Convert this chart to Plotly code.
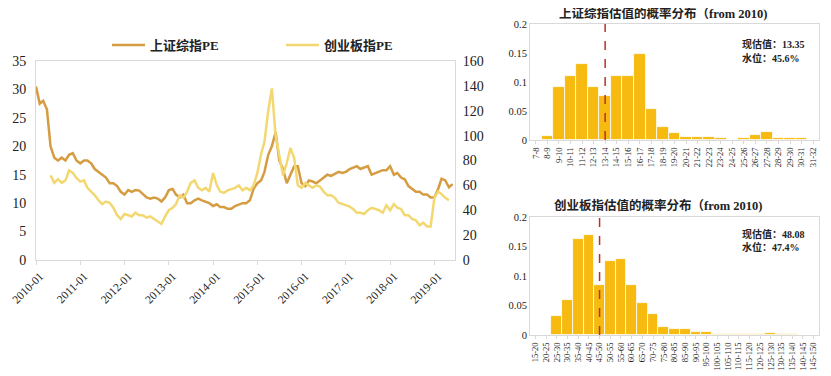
import plotly.graph_objects as go

# ---------------- data ----------------
sh_dates = [f"{y}-{m:02d}-01" for y in range(2010, 2020) for m in range(1, 13)][:114]
sh_pe = [30.5, 27.5, 28, 26.5, 20, 18, 17.5, 18, 17.5, 18.5, 18.8, 17.5,
         17, 17.5, 17.5, 17, 16, 15.5, 15, 14.5, 13.5, 13.5, 13, 12,
         11.5, 12.3, 12, 12.3, 12.2, 11.5, 11, 10.8, 11, 10.8, 10.3, 11,
         12.3, 12.5, 11.5, 11, 11.5, 10, 10, 10.5, 10.8, 10.5, 10.3, 10,
         9.5, 9.8, 9.3, 9.3, 9, 9, 9.5, 9.8, 10, 10, 10.5, 12.5,
         13.5, 14, 15.5, 18.5, 20, 22.5, 17.5, 16, 13.5, 15, 16.5, 16.5,
         13.5, 13, 14, 13.8, 13.5, 14, 14.5, 15, 14.8, 15.2, 15.5, 15.3,
         15.5, 16, 16.3, 16.5, 16, 16.3, 16.5, 15, 15.3, 15.5, 15.8, 15.8,
         16.5, 15, 15.3, 14.5, 14.2, 13, 12.5, 12, 12, 11.5, 11.5, 11,
         11, 12.5, 14.3, 14, 12.8, 13.35]

cyb_dates = sh_dates[4:]
cyb_pe = [68, 62, 65, 62, 64, 72, 70,
          66, 63, 64, 58, 55, 52, 48, 45, 47, 46, 42, 36,
          33, 37, 36, 35, 38, 36, 36, 34, 35, 33, 31, 29,
          35, 40, 42, 45, 52, 50, 55, 62, 64, 58, 56, 58,
          55, 70, 60, 55, 54, 56, 57, 58, 60, 56, 58, 56,
          60, 70, 85, 95, 120, 138, 100, 85, 68, 78, 90, 82,
          60, 58, 62, 60, 58, 60, 59, 55, 52, 52, 50, 46,
          45, 44, 43, 41, 38, 38, 37, 40, 42, 41, 40, 38,
          44, 40, 45, 42, 41, 36, 36, 33, 32, 28, 30, 27,
          27, 50, 55, 53, 50, 48.08]

sh_bins = ["7-8", "8-9", "9-10", "10-11", "11-12", "12-13", "13-14", "14-15", "15-16",
           "16-17", "17-18", "18-19", "19-20", "20-21", "21-22", "22-23", "23-24", "24-25",
           "25-26", "26-27", "27-28", "28-29", "29-30", "30-31", "31-32"]
sh_prob = [0, 0.0075, 0.092, 0.111, 0.131, 0.092, 0.076, 0.11, 0.11, 0.148, 0.053, 0.022,
           0.0115, 0.006, 0.006, 0.005, 0.003, 0, 0.003, 0.008, 0.014, 0.003, 0.004, 0.003, 0]
sh_now = 13.35
sh_level = "45.6%"

cyb_bins = ["15-20", "20-25", "25-30", "30-35", "35-40", "40-45", "45-50", "50-55", "55-60",
            "60-65", "65-70", "70-75", "75-80", "80-85", "85-90", "90-95", "95-100", "100-105",
            "105-110", "110-115", "115-120", "120-125", "125-130", "130-135", "135-140",
            "140-145", "145-150"]
cyb_prob = [0, 0, 0.032, 0.060, 0.162, 0.170, 0.085, 0.126, 0.129, 0.085, 0.054, 0.036,
            0.014, 0.011, 0.011, 0.005, 0.005, 0.001, 0.001, 0.002, 0.002, 0.002, 0.003,
            0.001, 0.001, 0, 0]
cyb_now = 48.08
cyb_level = "47.4%"

# ---------------- style ----------------
FONT = "Liberation Serif, Noto Sans CJK SC, serif"
C_SH = "#D59C42"
C_CYB = "#F3D872"
C_BAR = "#F6BA10"
C_DASH = "#B8322A"
GRID = "#D9D9D9"

W, H, OFF = 823, 368, 8   # page body margin offsets the figure by 8px


def px(x):
    return (x - OFF) / W


def py(y):
    return 1 - (y - OFF) / H


def bin_index(bins, v):
    for i, b in enumerate(bins):
        lo, hi = [float(t) for t in b.split("-")]
        if lo <= v < hi:
            return i
    return 0


fig = go.Figure()

fig.add_trace(go.Scatter(x=sh_dates, y=sh_pe, name="<b>上证综指PE</b>", mode="lines",
                         line=dict(color=C_SH, width=2.5), xaxis="x", yaxis="y"))
fig.add_trace(go.Scatter(x=cyb_dates, y=cyb_pe, name="<b>创业板指PE</b>", mode="lines",
                         line=dict(color=C_CYB, width=2.5), xaxis="x", yaxis="y2"))

fig.add_trace(go.Bar(x=sh_bins, y=sh_prob, marker=dict(color=C_BAR, line=dict(color="white", width=0.8)),
                     showlegend=False, xaxis="x3", yaxis="y3"))
fig.add_trace(go.Bar(x=cyb_bins, y=cyb_prob, marker=dict(color=C_BAR, line=dict(color="white", width=0.8)),
                     showlegend=False, xaxis="x4", yaxis="y4"))

tickf = dict(family=FONT, size=14, color="#222")
hist_x = dict(type="category", tickangle=-90, automargin=False,
              tickfont=dict(family=FONT, size=8.5, color="#222"), showline=True,
              linecolor=GRID, mirror=True, showgrid=False, ticks="outside", ticklen=3, tickcolor=GRID)
hist_y = dict(range=[0, 0.2], dtick=0.05, automargin=False, showgrid=False, showline=True,
              linecolor=GRID, mirror=True, tickfont=dict(family=FONT, size=10.5, color="#222"))

fig.update_layout(
    width=W, height=H,
    margin=dict(l=0, r=0, t=0, b=0),
    paper_bgcolor="white", plot_bgcolor="white",
    font=dict(family=FONT, color="#222"),
    bargap=0,
    legend=dict(orientation="h", x=px(107), y=py(45), xanchor="left", yanchor="middle",
                font=dict(family=FONT, size=13, color="#222"),
                entrywidthmode="pixels", entrywidth=126, itemwidth=33),
    xaxis=dict(domain=[px(36), px(455)], type="date", range=["2010-01-01", "2019-06-20"],
               tick0="2010-01-01", dtick="M12", tickformat="%Y-%m", tickangle=-45,
               tickfont=dict(family=FONT, size=11.5, color="#222"), automargin=False,
               ticklabeloverflow="allow", ticklabelshift=4,
               showgrid=False, showline=True, linecolor=GRID, mirror=True,
               ticks="outside", ticklen=4, tickcolor=GRID, anchor="y"),
    yaxis=dict(domain=[py(260), py(61)], range=[0, 35], dtick=5, showgrid=False, automargin=False,
               showline=True, linecolor=GRID, tickfont=tickf, anchor="x", ticklabelstandoff=6),
    yaxis2=dict(overlaying="y", side="right", range=[0, 160], dtick=20, showgrid=False,
                automargin=False, showline=True, linecolor=GRID, tickfont=tickf, anchor="x",
                ticklabelstandoff=4),
    xaxis3=dict(domain=[px(530), px(819)], anchor="y3", **hist_x),
    yaxis3=dict(domain=[py(140), py(24)], anchor="x3", **hist_y),
    xaxis4=dict(domain=[px(530), px(819)], anchor="y4", **hist_x),
    yaxis4=dict(domain=[py(335), py(217)], anchor="x4", **hist_y),
)

# dashed current-value lines
for xa, ya, bins, v in [("x3", "y3", sh_bins, sh_now), ("x4", "y4", cyb_bins, cyb_now)]:
    i = bin_index(bins, v)
    fig.add_shape(type="line", xref=xa, yref=ya, x0=i, x1=i, y0=0, y1=0.2,
                  line=dict(color=C_DASH, width=1.5, dash="dash"))

# titles & annotations
fig.add_annotation(text="<b>上证综指估值的概率分布（from 2010)</b>", xref="paper", yref="paper",
                   x=px(663), y=py(14), xanchor="center", yanchor="middle", showarrow=False,
                   font=dict(family=FONT, size=12.5, color="#222"))
fig.add_annotation(text="<b>创业板指估值的概率分布（from 2010)</b>", xref="paper", yref="paper",
                   x=px(658), y=py(206), xanchor="center", yanchor="middle", showarrow=False,
                   font=dict(family=FONT, size=12.5, color="#222"))

for xa, ya, now, lvl, y1, y2 in [("x3 domain", "y3 domain", sh_now, sh_level, 0.83, 0.71),
                                 ("x4 domain", "y4 domain", cyb_now, cyb_level, 0.86, 0.75)]:
    fig.add_annotation(text=f"<b>现估值：{now:.2f}</b>", xref=xa, yref=ya, x=0.727, y=y1,
                       xanchor="left", yanchor="middle", showarrow=False,
                       font=dict(family=FONT, size=10, color="#222"))
    fig.add_annotation(text=f"<b>水位：{lvl}</b>", xref=xa, yref=ya, x=0.727, y=y2,
                       xanchor="left", yanchor="middle", showarrow=False,
                       font=dict(family=FONT, size=10, color="#222"))

fig.write_html("out.html")
